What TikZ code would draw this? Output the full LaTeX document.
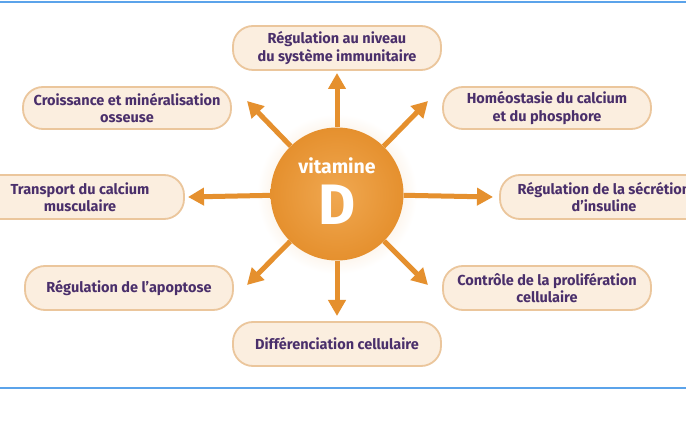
\documentclass[tikz,border=0pt]{standalone}
\usepackage{fontspec}
\setmainfont{Fira Sans}
\usetikzlibrary{arrows.meta}

\definecolor{texteviolet}{HTML}{4A2F6B}
\definecolor{fondbeige}{HTML}{FBEEDF}
\definecolor{bordbeige}{HTML}{EBC69C}
\definecolor{orangevit}{HTML}{E5902E}
\definecolor{orangeclair}{HTML}{F0A851}
\definecolor{bleuligne}{HTML}{5BA3EA}

\begin{document}
\begin{tikzpicture}[x=1pt,y=-1pt,
    effet/.style={draw=bordbeige, line width=1.8pt, fill=fondbeige, rounded corners=20pt,
        minimum width=208pt, minimum height=42pt, inner sep=2pt, align=center,
        text=texteviolet, font=\bfseries\fontsize{14.5}{17.5}\selectfont},
    fleche/.style={draw=orangevit, line width=5pt, -{Triangle[width=17pt,length=16pt]}}]
            \useasboundingbox[fill=white] (0,0) rectangle (686,430);

            \draw[bleuligne, line width=2.5pt] (0,2) -- (686,2);
            \draw[bleuligne, line width=2.5pt] (0,388) -- (686,388);

            \node[effet, minimum height=44pt] (immun) at (337,48) {Régulation au niveau\\du système immunitaire};
            \node[effet] (croiss) at (127,108) {Croissance et minéralisation\\osseuse};
            \node[effet] (homeo) at (547,108) {Homéostasie du calcium\\et du phosphore};
            \node[effet, minimum height=44pt] (transp) at (80,197) {Transport du calcium\\musculaire};
            \node[effet, minimum height=44pt] (insul) at (604,197) {Régulation de la sécrétion\\d’insuline};
            \node[effet, minimum height=44pt] (apopt) at (129,288) {Régulation de l’apoptose};
            \node[effet, minimum height=44pt] (prolif) at (547,288) {Contrôle de la prolifération\\cellulaire};
            \node[effet, minimum height=44pt] (diff) at (337,344) {Différenciation cellulaire};

            % halo autour du soleil
            \shade[inner color=orangevit!45, outer color=white] (337,194) circle (80pt);
            \node[circle, minimum size=133pt, inner sep=0pt, inner color=orangeclair, outer color=orangevit] (vitd) at (337,194) {};

            \coordinate (N) at (337,73);
            \coordinate (S) at (337,316);
            \coordinate (O) at (188,197);
            \coordinate (E) at (493,197);
            \coordinate (NO) at (247,101);
            \coordinate (NE) at (428,101);
            \coordinate (SO) at (247,285);
            \coordinate (SE) at (428,285);

            \draw[fleche] (vitd) -- (N);
            \draw[fleche] (vitd) -- (S);
            \draw[fleche] (vitd) -- (O);
            \draw[fleche] (vitd) -- (E);
            \draw[fleche] (vitd) -- (NO);
            \draw[fleche] (vitd) -- (NE);
            \draw[fleche] (vitd) -- (SO);
            \draw[fleche] (vitd) -- (SE);

            \node[text=white, font=\bfseries\fontsize{19.5}{19.5}\selectfont] (vit) at (337,166) {vitamine};
            \node[text=white, font=\bfseries\fontsize{57}{57}\selectfont] (lettre) at (337,205) {D};

        \end{tikzpicture}
\end{document}
